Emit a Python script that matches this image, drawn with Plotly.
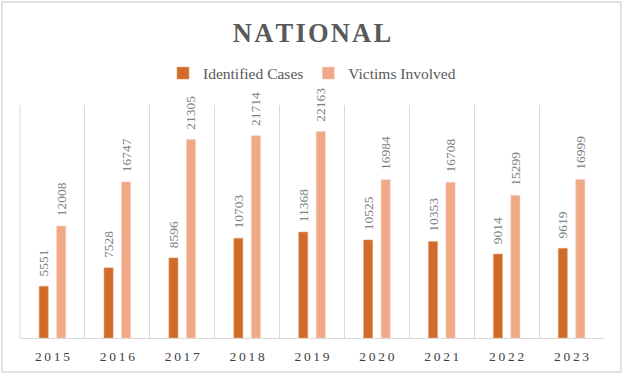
import plotly.graph_objects as go

years = ["2015", "2016", "2017", "2018", "2019", "2020", "2021", "2022", "2023"]
identified_cases = [5551, 7528, 8596, 10703, 11368, 10525, 10353, 9014, 9619]
victims_involved = [12008, 16747, 21305, 21714, 22163, 16984, 16708, 15299, 16999]
tick_labels = ["\u2009".join(y) for y in years]

serif = "Liberation Serif, Times New Roman, serif"
label_tpl = "\u00a0\u00a0%{y:d}"

fig = go.Figure()
fig.add_trace(go.Bar(
    x=years, y=identified_cases, name="Identified Cases",
    marker=dict(color="#D06B29", line=dict(color="#E8A27A", width=0.6)),
    texttemplate=label_tpl, textposition="outside",
    textangle=-90, constraintext="none",
    textfont=dict(family=serif, size=13.5, color="#808080"),
    cliponaxis=False, hoverinfo="x+y+name",
))
fig.add_trace(go.Bar(
    x=years, y=victims_involved, name="Victims Involved",
    marker=dict(color="#F1A886", line=dict(color="#F8D0BC", width=0.6)),
    texttemplate=label_tpl, textposition="outside",
    textangle=-90, constraintext="none",
    textfont=dict(family=serif, size=13.5, color="#808080"),
    cliponaxis=False, hoverinfo="x+y+name",
))

fig.update_layout(
    width=624, height=375,
    margin=dict(l=20, r=20, t=105, b=37, autoexpand=False),
    paper_bgcolor="white", plot_bgcolor="white",
    barmode="group", bargap=0.46, bargroupgap=0.48,
    title=dict(text="<b>N\u200aA\u200aT\u200aI\u200aO\u200aN\u200aA\u200aL</b>", x=0.5, xanchor="center",
               y=0.912, yanchor="middle",
               font=dict(family=serif, size=26.5, color="#595959")),
    legend=dict(orientation="h", x=0.5, xanchor="center", y=1.135, yanchor="middle",
                font=dict(family=serif, size=15.5, color="#595959"),
                itemwidth=30, tracegroupgap=0, bgcolor="rgba(0,0,0,0)"),
    xaxis=dict(
        type="category", tickmode="array", tickvals=years, ticktext=tick_labels,
        range=[-0.5, len(years) - 0.5], automargin=False,
        tickson="boundaries", ticks="", showgrid=True, gridcolor="#D9D9D9", gridwidth=1,
        showline=True, linecolor="#D9D9D9", linewidth=1, ticklabelstandoff=6,
        tickfont=dict(family=serif, size=13.5, color="#404040"),
        fixedrange=True,
    ),
    yaxis=dict(range=[0, 25000], visible=False, showgrid=False, zeroline=False,
               fixedrange=True, automargin=False, tickformat="d"),
    shapes=[
        dict(type="rect", xref="paper", yref="paper",
             x0=-0.031, x1=1.029, y0=-0.146, y1=1.442,
             line=dict(color="#D9D9D9", width=1.5), fillcolor="rgba(0,0,0,0)", layer="below"),
        dict(type="line", xref="paper", yref="paper", x0=0, x1=0, y0=0, y1=1,
             line=dict(color="#D9D9D9", width=1), layer="below"),
    ],
)

fig.write_html("out.html", config={"displayModeBar": False},
               post_script="document.body.style.margin='0';")
